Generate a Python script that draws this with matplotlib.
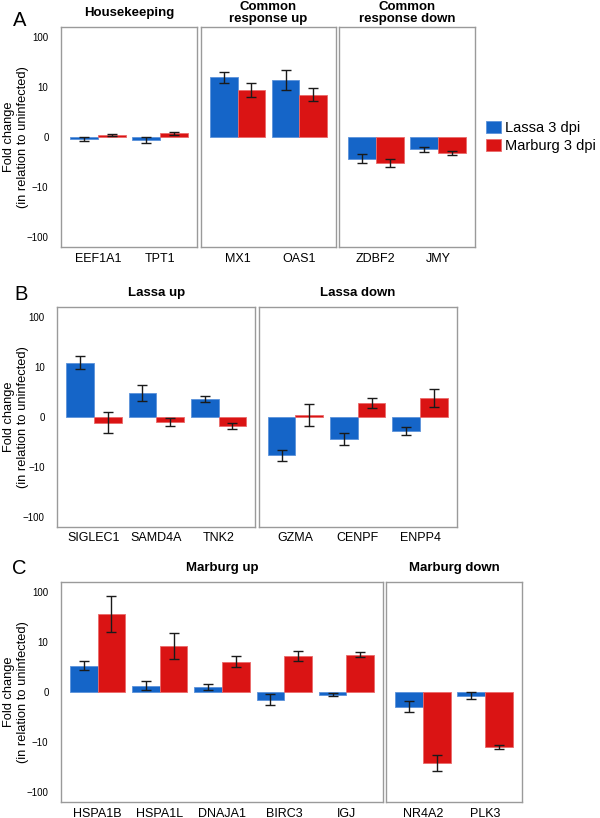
import numpy as np
import matplotlib
matplotlib.use("Agg")
import matplotlib.pyplot as plt
from matplotlib.patches import Patch

plt.rcParams['font.family'] = ['Liberation Sans', 'DejaVu Sans']

# values are log10 fold change (axis labels show the fold change itself)
genes_a = ["EEF1A1", "TPT1", "MX1", "OAS1", "ZDBF2", "JMY"]
lassa_a = [-0.04, -0.06, 1.19, 1.13, -0.44, -0.25]
lassa_err_a = [0.045, 0.053, 0.11, 0.2, 0.09, 0.05]
marburg_a = [0.04, 0.07, 0.93, 0.84, -0.52, -0.33]
marburg_err_a = [0.012, 0.023, 0.14, 0.13, 0.087, 0.04]

genes_b = ["SIGLEC1", "SAMD4A", "TNK2", "GZMA", "CENPF", "ENPP4"]
lassa_b = [1.08, 0.48, 0.35, -0.77, -0.45, -0.29]
lassa_err_b = [0.13, 0.16, 0.063, 0.113, 0.117, 0.077]
marburg_b = [-0.12, -0.1, -0.18, 0.033, 0.27, 0.37]
marburg_err_b = [0.21, 0.08, 0.063, 0.217, 0.097, 0.183]

genes_c = ["HSPA1B", "HSPA1L", "DNAJA1", "BIRC3", "IGJ", "NR4A2", "PLK3"]
lassa_c = [0.53, 0.13, 0.1, -0.15, -0.05, -0.29, -0.07]
lassa_err_c = [0.093, 0.093, 0.057, 0.107, 0.033, 0.113, 0.067]
marburg_c = [1.57, 0.93, 0.61, 0.73, 0.75, -1.42, -1.09]
marburg_err_c = [0.36, 0.26, 0.11, 0.1, 0.053, 0.167, 0.04]

titles_a = ["Housekeeping", "Common\nresponse up", "Common\nresponse down"]
titles_b = ["Lassa up", "Lassa down"]
titles_c = ["Marburg up", "Marburg down"]

yticks = [-2, -1, 0, 1, 2]
ytick_labels = ["\u2212100", "\u221210", "0", "10", "100"]

blue = '#1565c8'
red = '#da1414'
W, H = 600, 818
BOX_H = 220
bw = 0.445

fig = plt.figure(figsize=(W / 100, H / 100), dpi=100)


def draw_box(left, top, width, genes, lassa, lerr, marburg, merr, title, first):
    ax = fig.add_axes([left / W, 1 - (top + BOX_H) / H, width / W, BOX_H / H])
    x = np.arange(len(genes))
    ekw = dict(ecolor='#1a1a1a', elinewidth=1, capsize=3.5, capthick=1)
    ax.bar(x - bw / 2, lassa, bw, color=blue, edgecolor='#5c92da', linewidth=0.6,
           yerr=lerr, error_kw=ekw)
    ax.bar(x + bw / 2, marburg, bw, color=red, edgecolor='#ea6a6a', linewidth=0.6,
           yerr=merr, error_kw=ekw)
    ax.set_xlim(-0.589, len(genes) - 1 + 0.589)
    ax.set_ylim(-2.2, 2.2)
    ax.set_xticks(x)
    ax.set_xticklabels(genes, fontsize=9)
    ax.tick_params(axis='x', length=0, pad=4)
    ax.set_yticks(yticks)
    if first:
        ax.set_yticklabels(ytick_labels, fontsize=7)
        ax.tick_params(axis='y', length=0, pad=9)
    else:
        ax.set_yticklabels([])
        ax.tick_params(axis='y', length=0)
    for s in ax.spines.values():
        s.set_color('#9a9a9a')
        s.set_linewidth(1)
    ax.text(0.5, 1 + 14 / BOX_H, title, transform=ax.transAxes, ha='center',
            va='center', fontsize=9.5, fontweight='bold', linespacing=1.05)
    return ax


def ylabel(top):
    yc = 1 - (top + BOX_H / 2) / H
    fig.text(16 / W, yc, "Fold change\n(in relation to uninfected)", rotation=90,
             ha='center', va='center', fontsize=9.3, multialignment='center',
             linespacing=1.15)


# panel A
top = 27
a_boxes = [(61, 136), (201, 135), (339, 136)]
for i, (l, w) in enumerate(a_boxes):
    s = slice(2 * i, 2 * i + 2)
    draw_box(l, top, w, genes_a[s], lassa_a[s], lassa_err_a[s],
             marburg_a[s], marburg_err_a[s], titles_a[i], i == 0)
ylabel(top)
fig.text(20 / W, 1 - 21 / H, "A", fontsize=14.5, ha='center', va='center')

# panel B
top = 306.7
b_boxes = [(57.3, 198), (258.7, 198)]
for i, (l, w) in enumerate(b_boxes):
    s = slice(3 * i, 3 * i + 3)
    draw_box(l, top, w, genes_b[s], lassa_b[s], lassa_err_b[s],
             marburg_b[s], marburg_err_b[s], titles_b[i], i == 0)
ylabel(top)
fig.text(21 / W, 1 - 295 / H, "B", fontsize=14.5, ha='center', va='center')

# panel C
top = 582
c_boxes = [(61, 322, slice(0, 5)), (386, 136, slice(5, 7))]
for i, (l, w, s) in enumerate(c_boxes):
    draw_box(l, top, w, genes_c[s], lassa_c[s], lassa_err_c[s],
             marburg_c[s], marburg_err_c[s], titles_c[i], i == 0)
ylabel(top)
fig.text(19.5 / W, 1 - 569 / H, "C", fontsize=14.5, ha='center', va='center')

handles = [Patch(facecolor=blue, edgecolor='#5c92da', linewidth=0.6),
           Patch(facecolor=red, edgecolor='#ea6a6a', linewidth=0.6)]
fig.legend(handles, ["Lassa 3 dpi", "Marburg 3 dpi"], loc='center left',
           bbox_to_anchor=(486 / W, 1 - 137 / H), frameon=False, fontsize=10.5,
           handlelength=1.05, handleheight=0.95, handletextpad=0.25,
           labelspacing=0.25, borderpad=0, borderaxespad=0)

fig.savefig("out.png", dpi=100)
